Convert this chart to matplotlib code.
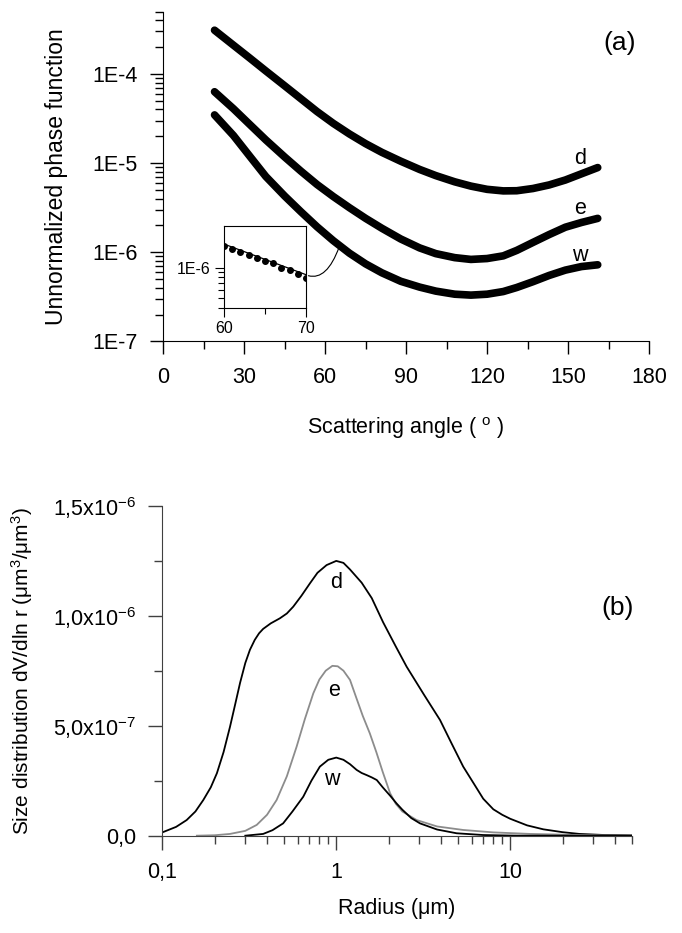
import numpy as np
import matplotlib
matplotlib.use('Agg')
from matplotlib import pyplot as plt
from matplotlib.ticker import FixedLocator, FuncFormatter, LogLocator, NullFormatter

plt.rcParams['font.family'] = ['Liberation Sans', 'DejaVu Sans']
plt.rcParams['mathtext.fontset'] = 'custom'
plt.rcParams['mathtext.rm'] = 'Liberation Sans'
plt.rcParams['mathtext.it'] = 'Liberation Sans:italic'
plt.rcParams['mathtext.default'] = 'regular'

# (a) phase function vs scattering angle
angle = [19, 26, 32, 38, 45, 51, 57, 63, 69, 75, 81, 88, 95, 101,
         108, 114, 120, 126, 131, 137, 143, 149, 155, 161]
phase_d = [3.09e-4, 2.10e-4, 1.51e-4, 1.08e-4, 7.35e-5, 5.27e-5, 3.78e-5, 2.79e-5,
           2.12e-5, 1.65e-5, 1.32e-5, 1.05e-5, 8.49e-6, 7.24e-6, 6.17e-6, 5.52e-6,
           5.08e-6, 4.88e-6, 4.90e-6, 5.19e-6, 5.69e-6, 6.46e-6, 7.59e-6, 8.91e-6]
phase_e = [6.31e-5, 4.07e-5, 2.72e-5, 1.82e-5, 1.17e-5, 8.13e-6, 5.75e-6, 4.22e-6,
           3.16e-6, 2.40e-6, 1.86e-6, 1.41e-6, 1.12e-6, 9.66e-7, 8.71e-7, 8.32e-7,
           8.51e-7, 9.12e-7, 1.05e-6, 1.29e-6, 1.58e-6, 1.91e-6, 2.16e-6, 2.40e-6]
phase_w = [3.47e-5, 2.04e-5, 1.20e-5, 7.08e-6, 4.27e-6, 2.85e-6, 1.93e-6, 1.35e-6,
           9.77e-7, 7.41e-7, 5.89e-7, 4.73e-7, 4.07e-7, 3.67e-7, 3.39e-7, 3.31e-7,
           3.39e-7, 3.63e-7, 4.03e-7, 4.68e-7, 5.50e-7, 6.31e-7, 6.92e-7, 7.24e-7]

# inset: measured points and fit between 60 and 70 deg
inset_angle = [60, 61, 62, 63, 64, 65, 66, 67, 68, 69, 70]
inset_meas = [1.62e-6, 1.52e-6, 1.42e-6, 1.33e-6, 1.25e-6, 1.17e-6,
              1.10e-6, 1.00e-6, 0.94e-6, 0.87e-6, 0.79e-6]
inset_fit_angle = [60, 70]
inset_fit = [1.71e-6, 0.85e-6]

# (b) size distributions (units of 1e-7)
r_d = [0.1, 0.12, 0.138, 0.155, 0.172, 0.19, 0.206, 0.225, 0.245, 0.262, 0.28, 0.30,
       0.319, 0.34, 0.36, 0.38, 0.42, 0.474, 0.52, 0.566, 0.63, 0.706, 0.78, 0.88, 1.0,
       1.1, 1.2, 1.4, 1.6, 1.86, 2.2, 2.54, 3.2, 3.95, 4.6, 5.37, 6.2, 7.0, 8.0, 9.0,
       10, 12.5, 15.5, 20, 25, 35, 50]
size_d = [0.15, 0.40, 0.71, 1.1, 1.62, 2.2, 2.84, 3.8, 4.95, 5.95, 6.95, 7.85,
          8.45, 8.9, 9.2, 9.4, 9.65, 9.88, 10.1, 10.41, 10.9, 11.47, 11.95, 12.3, 12.49,
          12.4, 12.1, 11.5, 10.8, 9.7, 8.6, 7.68, 6.4, 5.26, 4.2, 3.14, 2.35, 1.68, 1.2, 0.95,
          0.77, 0.47, 0.29, 0.16, 0.08, 0.03, 0.01]
r_e = [0.158, 0.2, 0.245, 0.3, 0.349, 0.4, 0.454, 0.52, 0.592, 0.66, 0.738, 0.8, 0.87,
       0.95, 1.02, 1.1, 1.2, 1.3, 1.42, 1.56, 1.7, 1.85, 2.04, 2.2, 2.4, 2.9, 3.8, 5.37,
       8, 13, 25, 50]
size_e = [0.0, 0.02, 0.08, 0.22, 0.49, 0.95, 1.62, 2.7, 4.05, 5.3, 6.47, 7.1, 7.5,
          7.72, 7.7, 7.5, 7.08, 6.3, 5.45, 4.65, 3.8, 2.9, 1.93, 1.45, 1.1, 0.71, 0.42, 0.26,
          0.15, 0.08, 0.03, 0.0]
r_w = [0.3, 0.38, 0.43, 0.495, 0.56, 0.646, 0.72, 0.805, 0.9, 1.0, 1.1, 1.2, 1.31,
       1.4, 1.5, 1.6, 1.71, 1.85, 2.05, 2.22, 2.4, 2.7, 3.03, 3.8, 4.92, 7, 11, 50]
size_w = [0.0, 0.08, 0.25, 0.56, 1.1, 1.77, 2.5, 3.14, 3.45, 3.55, 3.45, 3.25, 2.99,
          2.85, 2.75, 2.65, 2.53, 2.2, 1.8, 1.47, 1.18, 0.8, 0.56, 0.28, 0.11, 0.03, 0.0, 0.0]

fig = plt.figure(figsize=(6.82, 9.33), dpi=100)

# ---------- panel (a) ----------
ax1 = fig.add_axes([0.2394, 0.6340, 0.7122, 0.3536])
for ph in (phase_d, phase_e, phase_w):
    ax1.plot(angle, ph, color='black', lw=5.5, solid_capstyle='round',
             solid_joinstyle='round')
ax1.set_yscale('log')
ax1.set_xlim(0, 180)
ax1.set_ylim(1e-7, 5e-4)
ax1.set_xticks(np.arange(0, 181, 30))
ax1.set_xticks(np.arange(15, 180, 30), minor=True)
ax1.yaxis.set_major_locator(LogLocator(base=10, numticks=10))
ax1.yaxis.set_minor_locator(LogLocator(base=10, subs=np.arange(2, 10), numticks=20))
ax1.yaxis.set_major_formatter(FuncFormatter(lambda v, p: '1E%d' % round(np.log10(v))))
ax1.yaxis.set_minor_formatter(NullFormatter())
for s in ('top', 'right'):
    ax1.spines[s].set_visible(False)
ax1.tick_params(which='major', direction='out', length=9.5, width=1, labelsize=15.5, pad=9)
ax1.tick_params(which='minor', direction='out', length=5.5, width=1)
ax1.set_xlabel('Scattering angle ( $^{o}$ )', fontsize=15.5)
ax1.xaxis.set_label_coords(0.5, -0.223)
ax1.set_ylabel('Unnormalized phase function', fontsize=16.5)
ax1.yaxis.set_label_coords(-0.196, 0.5)
ax1.text(169, 2.2e-4, '(a)', fontsize=19, ha='center', va='center')
ax1.text(154.5, 1.13e-5, 'd', fontsize=15.5, ha='center', va='center')
ax1.text(154.5, 3.11e-6, 'e', fontsize=15.5, ha='center', va='center')
ax1.text(154.5, 9.3e-7, 'w', fontsize=15.5, ha='center', va='center')

# inset
axin = fig.add_axes([0.3284, 0.6702, 0.1202, 0.0879])
axin.plot(inset_fit_angle, inset_fit, color='black', lw=0.9)
axin.plot(inset_angle, inset_meas, 'o', color='black', ms=4)
axin.set_yscale('log')
axin.set_xlim(60, 70)
axin.set_ylim(4e-7, 2.6e-6)
axin.set_xticks([60, 70])
axin.set_xticks([65], minor=True)
axin.yaxis.set_major_locator(FixedLocator([1e-6]))
axin.yaxis.set_minor_locator(FixedLocator([4e-7, 5e-7, 6e-7, 7e-7, 8e-7, 9e-7]))
axin.yaxis.set_major_formatter(FuncFormatter(lambda v, p: '1E-6'))
axin.yaxis.set_minor_formatter(NullFormatter())
axin.tick_params(which='major', direction='out', length=6.5, width=0.8, labelsize=11.5, pad=3)
axin.tick_params(which='minor', direction='out', length=4, width=0.8)
for s in axin.spines.values():
    s.set_linewidth(0.8)

ax1.annotate('', xy=(65.2, 1.15e-6), xycoords='data',
             xytext=(70.3, 8.3e-7), textcoords=axin.transData,
             arrowprops=dict(arrowstyle='-', connectionstyle='angle3,angleA=-15,angleB=70',
                             lw=0.8, color='black', shrinkA=0, shrinkB=0))

# ---------- panel (b) ----------
ax2 = fig.add_axes([0.2380, 0.1043, 0.6883, 0.3537])
ax2.plot(r_d, np.array(size_d) * 1e-7, color='black', lw=1.3)
ax2.plot(r_e, np.array(size_e) * 1e-7, color='#8c8c8c', lw=1.3)
ax2.plot(r_w, np.array(size_w) * 1e-7, color='black', lw=1.3)
ax2.set_xscale('log')
ax2.set_xlim(0.1, 50)
ax2.set_ylim(0, 1.5e-6)
ax2.set_xticks([0.1, 1, 10])
ax2.set_xticklabels(['0,1', '1', '10'])
ax2.xaxis.set_minor_locator(LogLocator(base=10, subs=np.arange(2, 10), numticks=20))
ax2.xaxis.set_minor_formatter(NullFormatter())
ax2.set_yticks([0, 5e-7, 1e-6, 1.5e-6])
ax2.set_yticklabels(['0,0', '5,0x10$^{-7}$', '1,0x10$^{-6}$', '1,5x10$^{-6}$'])
ax2.set_yticks([2.5e-7, 7.5e-7, 1.25e-6], minor=True)
for s in ('top', 'right'):
    ax2.spines[s].set_visible(False)
for s in ('left', 'bottom'):
    ax2.spines[s].set_color('#404040')
ax2.tick_params(which='major', direction='out', length=10, width=1, labelsize=15.5,
                pad=9, color='#404040')
ax2.tick_params(which='minor', direction='out', length=5.5, width=1, color='#404040')
ax2.set_xlabel('Radius (μm)', fontsize=15.5)
ax2.xaxis.set_label_coords(0.5, -0.19)
ax2.set_ylabel('Size distribution dV/dln r (μm$^3$/μm$^3$)', fontsize=15)
ax2.yaxis.set_label_coords(-0.272, 0.5)
ax2.text(41.6, 10.35e-7, '(b)', fontsize=19, ha='center', va='center')
ax2.text(1.0, 11.49e-7, 'd', fontsize=15.5, ha='center', va='center')
ax2.text(0.97, 6.62e-7, 'e', fontsize=15.5, ha='center', va='center')
ax2.text(0.94, 2.54e-7, 'w', fontsize=15.5, ha='center', va='center')

fig.savefig('out.png', dpi=100)
